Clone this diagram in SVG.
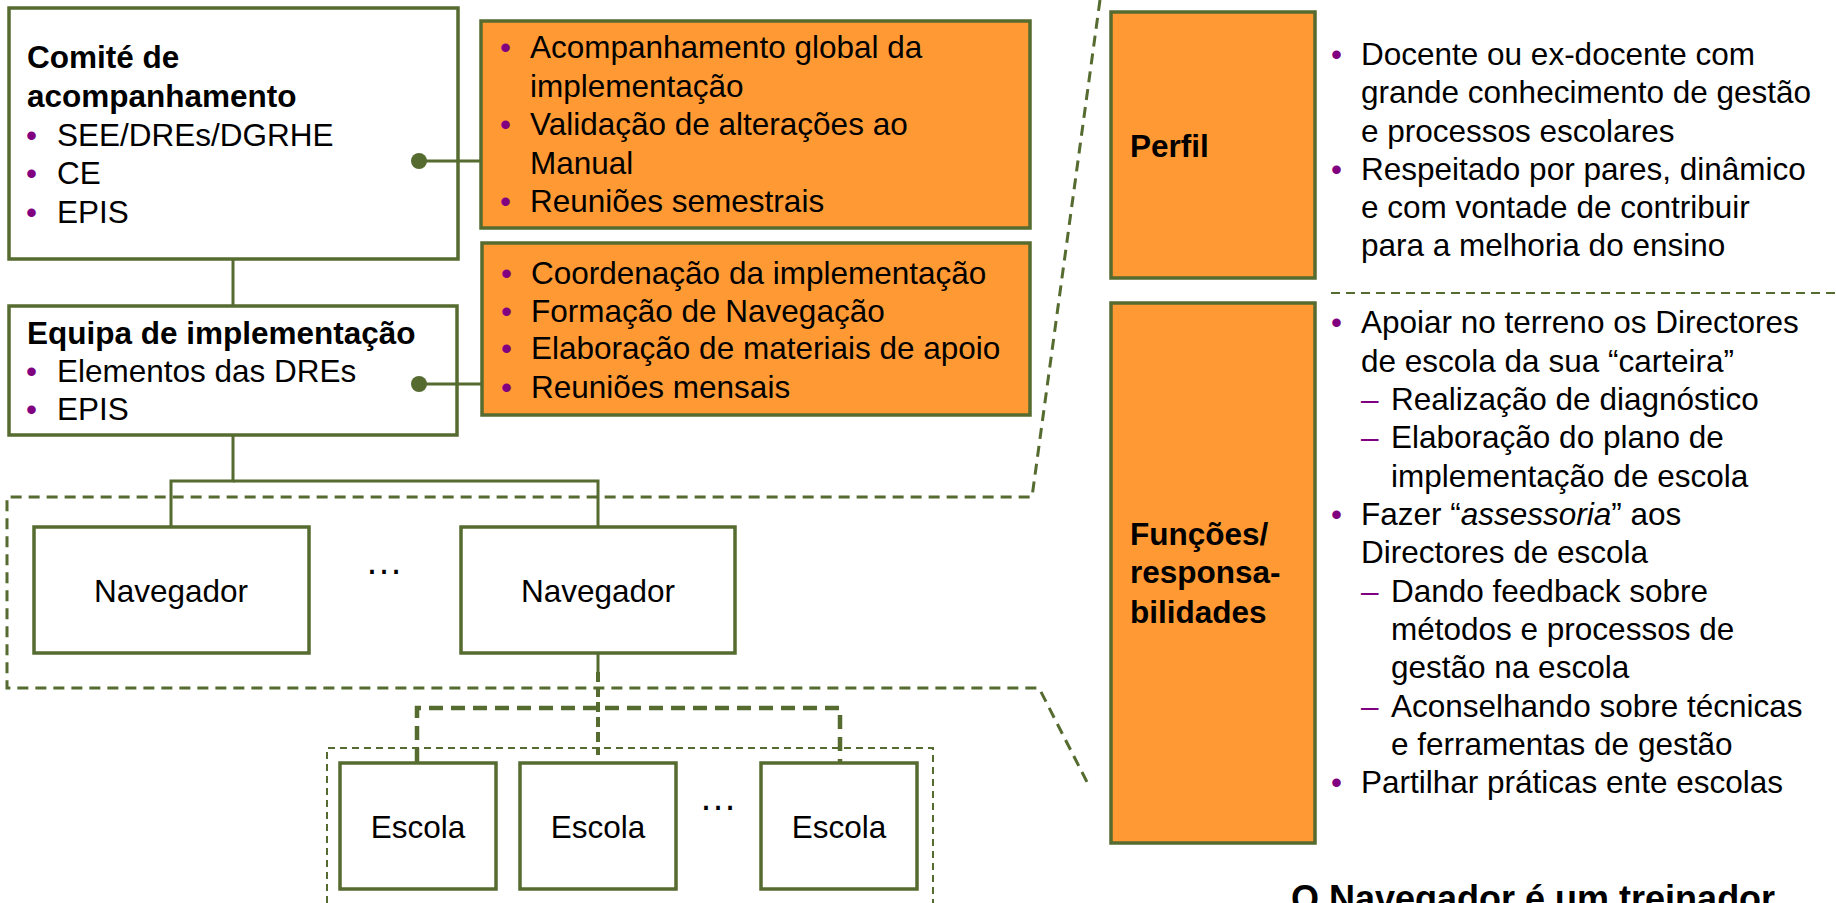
<svg xmlns="http://www.w3.org/2000/svg" width="1836" height="903" viewBox="0 0 1836 903">
<style>
text{font-family:"Liberation Sans",Arial,sans-serif;font-size:31.5px;fill:#000}
.b{font-weight:bold}
.p{fill:#800080}
.box{fill:#fff;stroke:#556B2F;stroke-width:3.5}
.ob{fill:#FF9933;stroke:#556B2F;stroke-width:3.5}
.ln{fill:none;stroke:#556B2F;stroke-width:3}
.dg{fill:none;stroke:#556B2F;stroke-width:3;stroke-dasharray:11 7}
.dk{fill:none;stroke:#556B2F;stroke-width:4.5;stroke-dasharray:14 8}
.dv{fill:none;stroke:#556B2F;stroke-width:4;stroke-dasharray:10 5}
.dt{fill:none;stroke:#556B2F;stroke-width:2;stroke-dasharray:7 5}
.ds{fill:none;stroke:#556B2F;stroke-width:2;stroke-dasharray:9 6}
.c{text-anchor:middle}
.el{font-size:38px}
</style>
<rect width="1836" height="903" fill="#fff"/>

<g id="group-outlines">
<polyline class="dg" points="1100,0 1032,497 7,497 7,688 1039,688 1087,782"/>
<polyline class="dt" points="327,903 327,748 933,748 933,903"/>
<line class="ds" x1="1331" y1="293" x2="1836" y2="293"/>
</g>

<g id="comite">
<rect class="box" x="9" y="8" width="449" height="251"/>
<text class="b" x="27" y="68">Comité de</text>
<text class="b" x="27" y="107">acompanhamento</text>
<text class="p" x="26" y="146">•</text><text x="57" y="146">SEE/DREs/DGRHE</text>
<text class="p" x="26" y="184">•</text><text x="57" y="184">CE</text>
<text class="p" x="26" y="223">•</text><text x="57" y="223">EPIS</text>
</g>

<g id="comite-tarefas">
<rect class="ob" x="481" y="21" width="549" height="207"/>
<text class="p" x="500" y="58">•</text><text x="530" y="58">Acompanhamento global da</text>
<text x="530" y="97">implementação</text>
<text class="p" x="500" y="135">•</text><text x="530" y="135">Validação de alterações ao</text>
<text x="530" y="174">Manual</text>
<text class="p" x="500" y="212">•</text><text x="530" y="212">Reuniões semestrais</text>
</g>

<g id="equipa">
<rect class="box" x="9" y="306" width="448" height="129"/>
<text class="b" x="27" y="344">Equipa de implementação</text>
<text class="p" x="26" y="382">•</text><text x="57" y="382">Elementos das DREs</text>
<text class="p" x="26" y="420">•</text><text x="57" y="420">EPIS</text>
</g>

<g id="equipa-tarefas">
<rect class="ob" x="482" y="243" width="548" height="172"/>
<text class="p" x="501" y="284">•</text><text x="531" y="284">Coordenação da implementação</text>
<text class="p" x="501" y="322">•</text><text x="531" y="322">Formação de Navegação</text>
<text class="p" x="501" y="359">•</text><text x="531" y="359">Elaboração de materiais de apoio</text>
<text class="p" x="501" y="398">•</text><text x="531" y="398">Reuniões mensais</text>
</g>

<g id="navegador1">
<rect class="box" x="34" y="527" width="275" height="126"/>
<text class="c" x="171" y="602">Navegador</text>
</g>
<text class="c el" x="384" y="574">…</text>
<g id="navegador2">
<rect class="box" x="461" y="527" width="274" height="126"/>
<text class="c" x="598" y="602">Navegador</text>
</g>

<g id="escola1">
<rect class="box" x="340" y="763" width="156" height="126"/>
<text class="c" x="418" y="838">Escola</text>
</g>
<g id="escola2">
<rect class="box" x="520" y="763" width="156" height="126"/>
<text class="c" x="598" y="838">Escola</text>
</g>
<text class="c el" x="718" y="810">…</text>
<g id="escola3">
<rect class="box" x="761" y="763" width="156" height="126"/>
<text class="c" x="839" y="838">Escola</text>
</g>

<g id="perfil">
<rect class="ob" x="1111" y="12" width="204" height="266"/>
<text class="b" x="1130" y="157">Perfil</text>
<text class="p" x="1331" y="65">•</text><text x="1361" y="65">Docente ou ex-docente com</text>
<text x="1361" y="103">grande conhecimento de gestão</text>
<text x="1361" y="142">e processos escolares</text>
<text class="p" x="1331" y="180">•</text><text x="1361" y="180">Respeitado por pares, dinâmico</text>
<text x="1361" y="218">e com vontade de contribuir</text>
<text x="1361" y="256">para a melhoria do ensino</text>
</g>

<g id="funcoes">
<rect class="ob" x="1111" y="303" width="204" height="540"/>
<text class="b" x="1130" y="545">Funções/</text>
<text class="b" x="1130" y="583">responsa-</text>
<text class="b" x="1130" y="623">bilidades</text>
<text class="p" x="1331" y="333">•</text><text x="1361" y="333">Apoiar no terreno os Directores</text>
<text x="1361" y="372">de escola da sua “carteira”</text>
<text class="p" x="1361" y="410">–</text><text x="1391" y="410">Realização de diagnóstico</text>
<text class="p" x="1361" y="448">–</text><text x="1391" y="448">Elaboração do plano de</text>
<text x="1391" y="487">implementação de escola</text>
<text class="p" x="1331" y="525">•</text><text x="1361" y="525">Fazer “<tspan font-style="italic">assessoria</tspan>” aos</text>
<text x="1361" y="563">Directores de escola</text>
<text class="p" x="1361" y="602">–</text><text x="1391" y="602">Dando feedback sobre</text>
<text x="1391" y="640">métodos e processos de</text>
<text x="1391" y="678">gestão na escola</text>
<text class="p" x="1361" y="717">–</text><text x="1391" y="717">Aconselhando sobre técnicas</text>
<text x="1391" y="755">e ferramentas de gestão</text>
<text class="p" x="1331" y="793">•</text><text x="1361" y="793">Partilhar práticas ente escolas</text>
</g>

<text class="b" x="1291" y="911" style="font-size:36px">O Navegador é um treinador</text>

<g id="connectors">
<line class="ln" x1="233" y1="259" x2="233" y2="306"/>
<polyline class="ln" points="233,435 233,481 171,481 171,527"/>
<polyline class="ln" points="233,481 598,481 598,527"/>
<line class="ln" x1="419" y1="161" x2="481" y2="161"/>
<circle cx="419" cy="161" r="8" fill="#556B2F"/>
<line class="ln" x1="419" y1="384" x2="482" y2="384"/>
<circle cx="419" cy="384" r="8" fill="#556B2F"/>
<line class="ln" x1="598" y1="653" x2="598" y2="672"/>
<line class="dv" x1="598" y1="672" x2="598" y2="755"/>
<polyline class="dk" points="417,762 417,708 840,708 840,762"/>
</g>
</svg>
